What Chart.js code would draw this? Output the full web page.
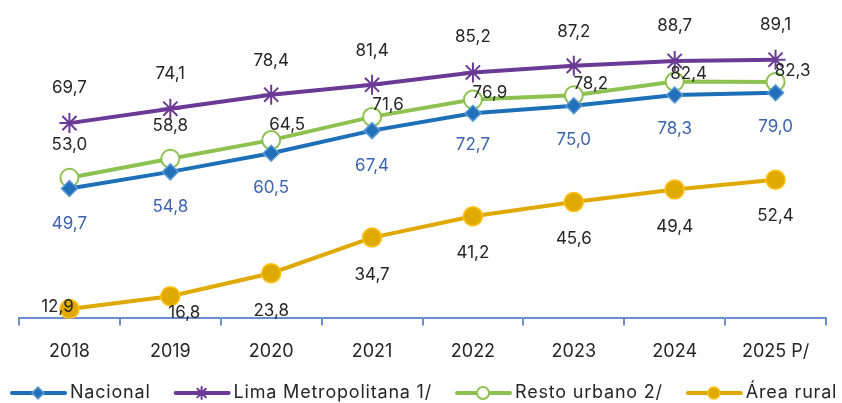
<!DOCTYPE html>
<html>
<head>
<meta charset="utf-8">
<script src="https://cdn.jsdelivr.net/npm/chart.js@4/dist/chart.umd.min.js"></script>
<style>
  html, body { margin: 0; padding: 0; background: #fff; }
  #wrap { width: 842px; height: 403px; }
</style>
</head>
<body>
<div id="wrap"><canvas id="chart" width="842" height="403"></canvas></div>
<script>
const years = ['2018', '2019', '2020', '2021', '2022', '2023', '2024', '2025 P/'];
const nacional = [49.7, 54.8, 60.5, 67.4, 72.7, 75.0, 78.3, 79.0];
const limaMetropolitana = [69.7, 74.1, 78.4, 81.4, 85.2, 87.2, 88.7, 89.1];
const restoUrbano = [53.0, 58.8, 64.5, 71.6, 76.9, 78.2, 82.4, 82.3];
const areaRural = [12.9, 16.8, 23.8, 34.7, 41.2, 45.6, 49.4, 52.4];

const FONT = 'Inter, "Noto Sans", sans-serif';
const TEXT = '#262626';

function fmt(v) {
    return v.toFixed(1).replace('.', ',');
}

// draws each value next to its point, with a per-point nudge
const valueLabels = {
    id: 'valueLabels',
    afterDatasetsDraw(chart) {
        const ctx = chart.ctx;
        ctx.save();
        ctx.font = '17px ' + FONT;
        ctx.textAlign = 'center';
        ctx.textBaseline = 'middle';
        chart.data.datasets.forEach((ds, i) => {
            const meta = chart.getDatasetMeta(i);
            ctx.fillStyle = ds.labelColor;
            meta.data.forEach((pt, j) => {
                const off = ds.labelOffsets[j];
                ctx.fillText(fmt(ds.data[j]), pt.x + off[0], pt.y + off[1]);
            });
        });
        ctx.restore();
    }
};

// legend row at the bottom: line + marker + name
const lineLegend = {
    id: 'lineLegend',
    afterDraw(chart) {
        const ctx = chart.ctx;
        const y = 393;
        let x = 12;
        ctx.save();
        ctx.font = '18px ' + FONT;
        ctx.letterSpacing = '0.8px';
        ctx.textBaseline = 'middle';
        chart.data.datasets.forEach(ds => {
            ctx.strokeStyle = ds.borderColor;
            ctx.lineWidth = 4;
            ctx.lineCap = 'round';
            ctx.beginPath();
            ctx.moveTo(x, y);
            ctx.lineTo(x + 53, y);
            ctx.stroke();
            ctx.fillStyle = ds.pointBackgroundColor;
            ctx.strokeStyle = ds.pointBorderColor;
            ctx.lineWidth = ds.pointBorderWidth;
            Chart.helpers.drawPoint(ctx, {
                pointStyle: ds.pointStyle,
                radius: ds.legendRadius,
                borderWidth: ds.pointBorderWidth,
                rotation: 0
            }, x + 26, y);
            ctx.fillStyle = TEXT;
            ctx.textAlign = 'left';
            ctx.fillText(ds.label, x + 58, y);
            x += 58 + ctx.measureText(ds.label).width + 25;
        });
        ctx.restore();
    }
};

new Chart(document.getElementById('chart'), {
    type: 'line',
    data: {
        labels: years,
        datasets: [{
            label: 'Nacional',
            data: nacional,
            borderColor: '#1d6fb8',
            borderWidth: 4,
            pointStyle: 'rectRot',
            pointRadius: 8,
            legendRadius: 6,
            pointBackgroundColor: '#2270ba',
            pointBorderColor: '#5b9bd5',
            pointBorderWidth: 1.5,
            labelColor: '#3d64ae',
            labelOffsets: [[0, 35], [0, 35], [0, 35], [0, 35], [0, 32], [0, 34], [0, 34], [0, 34]]
        }, {
            label: 'Lima Metropolitana 1/',
            data: limaMetropolitana,
            borderColor: '#6b3a97',
            borderWidth: 4,
            pointStyle: 'star',
            pointRadius: 10,
            legendRadius: 6,
            pointBackgroundColor: '#6b3a97',
            pointBorderColor: '#6b3a97',
            pointBorderWidth: 2,
            labelColor: TEXT,
            labelOffsets: [[0, -35], [0, -35], [0, -34], [0, -34], [0, -36], [0, -34], [0, -35], [0, -35]]
        }, {
            label: 'Resto urbano 2/',
            data: restoUrbano,
            borderColor: '#8dc251',
            borderWidth: 4,
            pointStyle: 'circle',
            pointRadius: 9,
            legendRadius: 6,
            pointBackgroundColor: '#ffffff',
            pointBorderColor: '#8dc251',
            pointBorderWidth: 2,
            labelColor: TEXT,
            labelOffsets: [[0, -33], [0, -33], [16, -15], [16, -12], [17, -7], [17, -11], [14, -8], [17, -11]]
        }, {
            label: 'Área rural',
            data: areaRural,
            borderColor: '#dfa900',
            borderWidth: 4,
            pointStyle: 'circle',
            pointRadius: 9.5,
            legendRadius: 6,
            pointBackgroundColor: '#dfa900',
            pointBorderColor: '#ffc20e',
            pointBorderWidth: 1.5,
            labelColor: TEXT,
            labelOffsets: [[-12, -2], [14, 17], [0, 38], [0, 37], [0, 37], [0, 37], [0, 37], [0, 36]]
        }]
    },
    options: {
        responsive: false,
        animation: false,
        layout: { padding: { left: 19, right: 16, top: 24, bottom: 26 } },
        elements: { line: { tension: 0 } },
        plugins: {
            legend: { display: false },
            tooltip: { enabled: false }
        },
        scales: {
            x: {
                offset: true,
                grid: {
                    offset: true,
                    drawOnChartArea: false,
                    drawTicks: true,
                    tickLength: 7,
                    color: '#6a8fcf',
                    lineWidth: 2
                },
                border: { color: '#6a8fcf', width: 2 },
                ticks: {
                    color: TEXT,
                    padding: 15,
                    font: { family: FONT, size: 18 }
                }
            },
            y: {
                display: false,
                min: 10,
                max: 100
            }
        }
    },
    plugins: [valueLabels, lineLegend]
});
</script>
</body>
</html>
